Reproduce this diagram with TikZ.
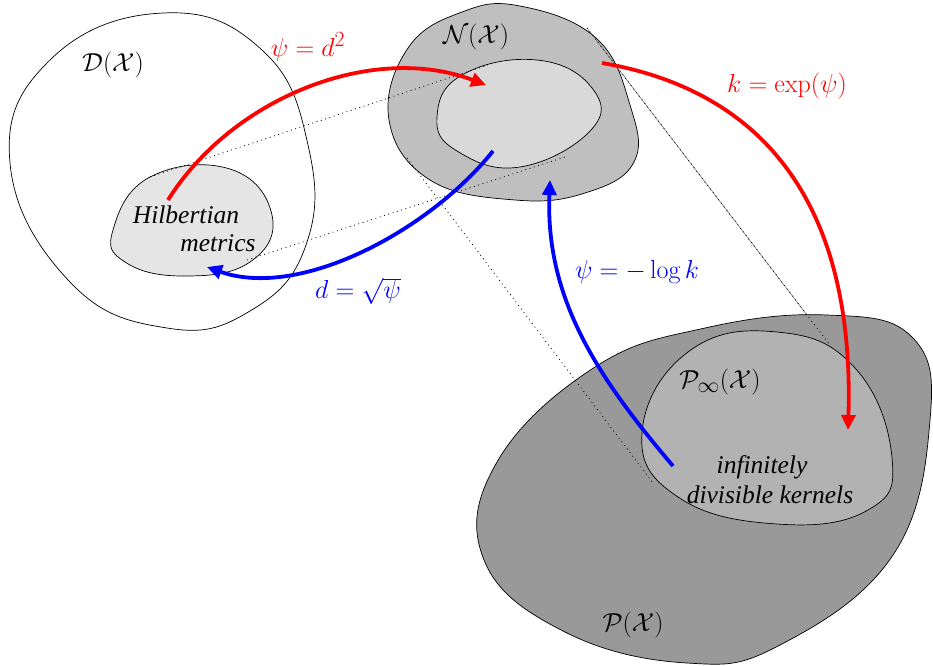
\documentclass[tikz,border=0pt]{standalone}
\usepackage{graphicx}
\usepackage{fontspec}
\newfontfamily\tms{Liberation Serif}
\usetikzlibrary{arrows.meta}
\definecolor{hilb}{gray}{0.90}
\definecolor{nout}{gray}{0.75}
\definecolor{nin}{gray}{0.85}
\definecolor{pout}{gray}{0.60}
\definecolor{pin}{gray}{0.70}
\newcommand{\labmath}[1]{\scalebox{1.045}{\Huge$#1$}}
\tikzset{
  blob/.style={draw=black, line width=0.7pt},
  proj/.style={line width=0.8pt, dash pattern=on 0.9pt off 3.6pt},
  maparrow/.style={line width=3.8pt, -{Triangle[length=15pt,width=14pt]}},
  lab/.style={inner sep=0pt},
  txt/.style={font=\fontsize{25.5}{30}\selectfont\tms\itshape, inner sep=0pt}
}
\begin{document}
\begin{tikzpicture}[x=1pt,y=-1pt]
\useasboundingbox (0,0) rectangle (933,665);
% D(X)
\draw[blob, fill=white] plot[smooth cycle, tension=0.75] coordinates {
 (163,13) (262,50) (308,145) (306,245) (250,311) (167,328) (70,282) (10,163) (50,60)};
% Hilbertian
\draw[blob, fill=hilb] plot[smooth cycle, tension=0.75] coordinates {
 (113,230) (150,177) (230,169) (272,215) (250,262) (183,276) (125,262)};
% N(X)
\draw[blob, fill=nout] plot[smooth cycle, tension=0.7] coordinates {
 (520,6) (596,38) (630,105) (634,162) (585,193) (515,200) (430,180) (389,120) (408,48) (462,12)};
\draw[blob, fill=nin] plot[smooth cycle, tension=0.75] coordinates {
 (537,60) (592,88) (591,130) (520,167) (457,151) (437,117) (462,75)};
% thin line behind P
\coordinate (nt) at (587,28);
\coordinate (pt) at (830,345);
\draw[gray!80!black, line width=0.5pt] (nt) -- (pt);
% P(X)
\draw[blob, fill=pout] plot[smooth cycle, tension=0.7] coordinates {
 (827,315) (912,337) (930,420) (893,555) (780,645) (687,663) (565,632) (484,560) (497,462) (595,367) (705,328)};
\draw[blob, fill=pin] plot[smooth cycle, tension=0.75] coordinates {
 (777,332) (855,368) (892,458) (868,510) (777,524) (678,497) (642,433) (688,352)};
% projection lines
\coordinate (h1) at (150,177);
\coordinate (n1) at (488,65);
\coordinate (h2) at (247,260);
\coordinate (n2) at (565,157);
\coordinate (nl) at (407,158);
\coordinate (pl) at (653,483);
\draw[proj] (h1) -- (n1);
\draw[proj] (h2) -- (n2);
\draw[proj] (nl) -- (pl);
\draw[proj] (nt) -- (pt);
% arrows
\coordinate (hs) at (168,200);
\coordinate (ne) at (486,85);
\coordinate (ns) at (493,151);
\coordinate (he) at (207,267);
\coordinate (nk) at (602,63);
\coordinate (pe) at (848,430);
\coordinate (ps) at (673,466);
\coordinate (nu) at (550,180);
\draw[maparrow, red] (hs) .. controls (232,98) and (372,42) .. (ne);
\draw[maparrow, blue] (ns) .. controls (430,230) and (300,300) .. (he);
\draw[maparrow, red] (nk) .. controls (760,90) and (855,200) .. (pe);
\draw[maparrow, blue] (ps) .. controls (600,380) and (545,300) .. (nu);
% labels
\node[lab] (lD) at (113,65) {\labmath{\mathcal{D}(\mathcal{X})}};
\node[lab] (lN) at (476,37) {\labmath{\mathcal{N}(\mathcal{X})}};
\node[lab] (lPi) at (720,382) {\labmath{\mathcal{P}_\infty(\mathcal{X})}};
\node[lab] (lP) at (633,625) {\labmath{\mathcal{P}(\mathcal{X})}};
\node[lab, red] (l1) at (308,47) {\labmath{\psi=d^2}};
\node[lab, blue] (l2) at (358,291) {\labmath{d=\sqrt{\psi}}};
\node[lab, red] (l3) at (787,86) {\labmath{k=\exp(\psi)}};
\node[lab, blue] (l4) at (637,272) {\labmath{\psi=-\log k}};
\node[txt] (t1) at (186,215) {Hilbertian};
\node[txt] (t2) at (218,243) {metrics};
\node[txt] (t3) at (762,467) {infinitely};
\node[txt] (t4) at (770,495) {divisible kernels};
\end{tikzpicture}
\end{document}
